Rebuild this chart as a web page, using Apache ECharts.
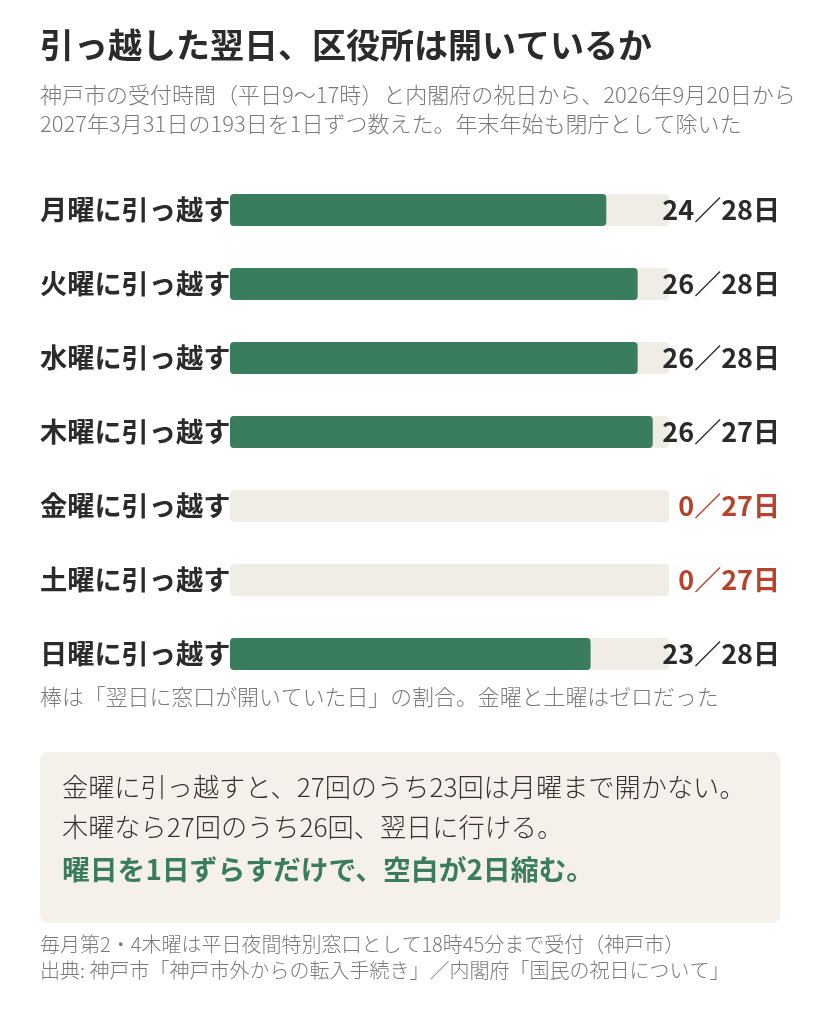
<!DOCTYPE html>
<html>
<head>
<meta charset="utf-8">
<script src="https://cdn.jsdelivr.net/npm/echarts@6/dist/echarts.min.js"></script>
<style>
  html, body { margin: 0; padding: 0; background: #fff; }
  #chart { width: 820px; height: 1020px; }
</style>
</head>
<body>
<div id="chart"></div>
<script>
// 曜日ごとの「翌日に窓口が開いていた日」／引っ越し候補日
const days = ['月曜に引っ越す', '火曜に引っ越す', '水曜に引っ越す', '木曜に引っ越す', '金曜に引っ越す', '土曜に引っ越す', '日曜に引っ越す']
const openNextDay = [24, 26, 26, 26, 0, 0, 23]
const totalDays = [28, 28, 28, 27, 27, 27, 28]

const FONT = '"Noto Sans CJK JP", "Noto Sans", sans-serif'
const GREEN = '#3a7d5e'
const TRACK = '#f0ece6'
const RED = '#b5432e'
const INK = '#2b2b2b'
const GRAY = '#7a7a7a'

const ratio = openNextDay.map((v, i) => v / totalDays[i])
const valueLabels = openNextDay.map((v, i) => v + '／' + totalDays[i] + '日')

const chart = echarts.init(document.getElementById('chart'))

chart.setOption({
  backgroundColor: '#fff',
  animation: false,
  grid: { left: 230, right: 151, top: 173, height: 518 },
  xAxis: { type: 'value', min: 0, max: 1, show: false },
  yAxis: [
    {
      type: 'category',
      data: days,
      inverse: true,
      axisLine: { show: false },
      axisTick: { show: false },
      axisLabel: {
        align: 'left',
        margin: 190,
        fontFamily: FONT,
        fontSize: 27.2,
        fontWeight: 'bold',
        color: INK
      }
    },
    {
      // 値ラベルは背景トラックの上に重ねる
      type: 'category',
      data: valueLabels,
      inverse: true,
      position: 'right',
      z: 5,
      axisLine: { show: false },
      axisTick: { show: false },
      axisLabel: {
        align: 'right',
        margin: 111,
        fontFamily: FONT,
        fontSize: 27,
        fontWeight: 'bold',
        formatter: (val, idx) => openNextDay[idx] === 0 ? '{z|' + val + '}' : '{n|' + val + '}',
        rich: {
          n: { color: INK, fontFamily: FONT, fontSize: 27, fontWeight: 'bold' },
          z: { color: RED, fontFamily: FONT, fontSize: 27, fontWeight: 'bold' }
        }
      }
    }
  ],
  series: [
    {
      type: 'bar',
      data: ratio,
      barWidth: 32,
      showBackground: true,
      backgroundStyle: { color: TRACK, borderRadius: 4 },
      itemStyle: { color: GREEN, borderRadius: 4 },
      silent: true
    }
  ],
  graphic: [
    {
      type: 'text', left: 40, top: 28,
      style: { text: '引っ越した翌日、区役所は開いているか', font: 'bold 34px ' + FONT, fill: INK }
    },
    {
      type: 'text', left: 40, top: 80,
      style: {
        text: '神戸市の受付時間（平日9〜17時）と内閣府の祝日から、2026年9月20日から\n2027年3月31日の193日を1日ずつ数えた。年末年始も閉庁として除いた',
        font: '300 22px ' + FONT, fill: GRAY, lineHeight: 29
      }
    },
    {
      type: 'text', left: 40, top: 684,
      style: { text: '棒は「翌日に窓口が開いていた日」の割合。金曜と土曜はゼロだった', font: '300 21.9px ' + FONT, fill: GRAY, lineHeight: 26 }
    },
    {
      type: 'rect',
      shape: { x: 40, y: 752, width: 740, height: 171, r: 8 },
      style: { fill: '#f6f0eb' }
    },
    {
      type: 'text', left: 62, top: 767,
      style: {
        text: '金曜に引っ越すと、27回のうち23回は月曜まで開かない。\n木曜なら27回のうち26回、翌日に行ける。',
        font: '300 26.2px ' + FONT, fill: '#333', lineHeight: 40
      }
    },
    {
      type: 'text', left: 62, top: 852,
      style: { text: '曜日を1日ずらすだけで、空白が2日縮む。', font: 'bold 27.8px ' + FONT, fill: GREEN, lineHeight: 34 }
    },
    {
      type: 'text', left: 40, top: 931,
      style: {
        text: '毎月第2・4木曜は平日夜間特別窓口として18時45分まで受付（神戸市）\n出典: 神戸市「神戸市外からの転入手続き」／内閣府「国民の祝日について」',
        font: '300 20px ' + FONT, fill: GRAY, lineHeight: 26
      }
    }
  ]
})
</script>
</body>
</html>
